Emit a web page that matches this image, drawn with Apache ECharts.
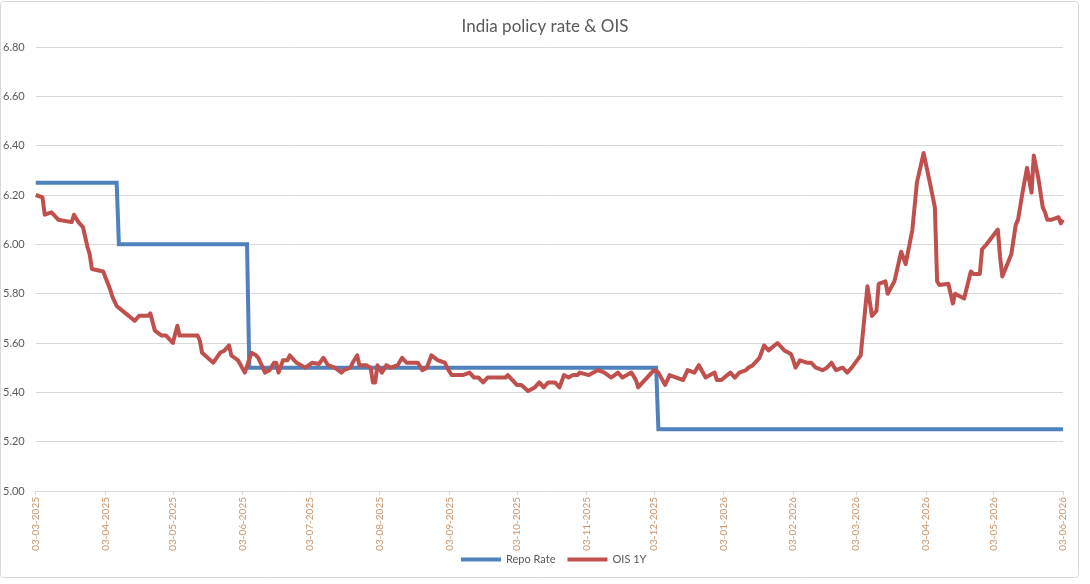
<!DOCTYPE html>
<html>
<head>
<meta charset="utf-8">
<title>India policy rate & OIS</title>
<script src="https://cdn.jsdelivr.net/npm/echarts@6/dist/echarts.min.js"></script>
<style>
  html, body { margin: 0; padding: 0; background: #fff; }
  #main { width: 1090px; height: 584px; }
</style>
</head>
<body>
<div id="main"></div>
<script>
// monthly tick dates shown on the x axis
const tickDates = [
  "2025-03-03", "2025-04-03", "2025-05-03", "2025-06-03", "2025-07-03", "2025-08-03",
  "2025-09-03", "2025-10-03", "2025-11-03", "2025-12-03", "2026-01-03", "2026-02-03",
  "2026-03-03", "2026-04-03", "2026-05-03", "2026-06-03"
];

// RBI repo rate (step changes)
const repoDates = [
  "2025-03-03", "2025-04-08", "2025-04-09", "2025-06-05", "2025-06-06",
  "2025-12-04", "2025-12-05", "2026-06-03"
];
const repoValues = [6.25, 6.25, 6.0, 6.0, 5.5, 5.5, 5.25, 5.25];

// 1Y OIS
const oisDates = [
  "2025-03-03", "2025-03-06", "2025-03-07", "2025-03-10", "2025-03-13", "2025-03-19",
  "2025-03-20", "2025-03-22", "2025-03-24", "2025-03-26", "2025-03-27", "2025-03-28",
  "2025-04-02", "2025-04-05", "2025-04-06", "2025-04-08", "2025-04-12", "2025-04-16",
  "2025-04-18", "2025-04-22", "2025-04-23", "2025-04-25", "2025-04-28", "2025-04-30",
  "2025-05-03", "2025-05-05", "2025-05-06", "2025-05-09", "2025-05-14", "2025-05-15",
  "2025-05-16", "2025-05-21", "2025-05-24", "2025-05-26", "2025-05-28", "2025-05-29",
  "2025-06-01", "2025-06-04", "2025-06-07", "2025-06-09", "2025-06-10", "2025-06-11",
  "2025-06-13", "2025-06-15", "2025-06-17", "2025-06-18", "2025-06-19", "2025-06-21",
  "2025-06-23", "2025-06-24", "2025-06-27", "2025-07-01", "2025-07-04", "2025-07-07",
  "2025-07-09", "2025-07-11", "2025-07-14", "2025-07-17", "2025-07-18", "2025-07-21",
  "2025-07-22", "2025-07-24", "2025-07-25", "2025-07-28", "2025-07-30", "2025-07-31",
  "2025-08-01", "2025-08-02", "2025-08-04", "2025-08-06", "2025-08-08", "2025-08-11",
  "2025-08-13", "2025-08-15", "2025-08-19", "2025-08-20", "2025-08-22", "2025-08-24",
  "2025-08-26", "2025-08-29", "2025-09-01", "2025-09-02", "2025-09-04", "2025-09-09",
  "2025-09-12", "2025-09-14", "2025-09-16", "2025-09-18", "2025-09-20", "2025-09-24",
  "2025-09-28", "2025-09-29", "2025-10-02", "2025-10-03", "2025-10-05", "2025-10-08",
  "2025-10-11", "2025-10-13", "2025-10-15", "2025-10-17", "2025-10-20", "2025-10-22",
  "2025-10-24", "2025-10-26", "2025-10-28", "2025-10-30", "2025-10-31", "2025-11-04",
  "2025-11-08", "2025-11-11", "2025-11-14", "2025-11-17", "2025-11-19", "2025-11-21",
  "2025-11-23", "2025-11-25", "2025-11-26", "2025-11-28", "2025-12-01", "2025-12-03",
  "2025-12-05", "2025-12-08", "2025-12-10", "2025-12-13", "2025-12-16", "2025-12-18",
  "2025-12-21", "2025-12-23", "2025-12-26", "2025-12-30", "2025-12-31", "2026-01-02",
  "2026-01-06", "2026-01-08", "2026-01-10", "2026-01-13", "2026-01-14", "2026-01-16",
  "2026-01-19", "2026-01-21", "2026-01-23", "2026-01-27", "2026-01-30", "2026-02-02",
  "2026-02-03", "2026-02-04", "2026-02-06", "2026-02-09", "2026-02-11", "2026-02-13",
  "2026-02-16", "2026-02-18", "2026-02-20", "2026-02-22", "2026-02-25", "2026-02-27",
  "2026-03-01", "2026-03-05", "2026-03-08", "2026-03-10", "2026-03-12", "2026-03-13",
  "2026-03-16", "2026-03-17", "2026-03-20", "2026-03-23", "2026-03-25", "2026-03-28",
  "2026-03-30", "2026-04-02", "2026-04-05", "2026-04-07", "2026-04-08", "2026-04-09",
  "2026-04-13", "2026-04-15", "2026-04-16", "2026-04-20", "2026-04-23", "2026-04-24",
  "2026-04-27", "2026-04-28", "2026-04-30", "2026-05-05", "2026-05-06", "2026-05-07",
  "2026-05-11", "2026-05-13", "2026-05-14", "2026-05-16", "2026-05-18", "2026-05-20",
  "2026-05-21", "2026-05-23", "2026-05-25", "2026-05-26", "2026-05-27", "2026-05-29",
  "2026-06-01", "2026-06-02", "2026-06-03"
];
const oisValues = [
  6.20, 6.19, 6.12, 6.13, 6.10, 6.09,
  6.12, 6.09, 6.07, 5.99, 5.96, 5.90,
  5.89, 5.82, 5.79, 5.75, 5.72, 5.69,
  5.71, 5.71, 5.72, 5.65, 5.63, 5.63,
  5.60, 5.67, 5.63, 5.63, 5.63, 5.61,
  5.56, 5.52, 5.56, 5.57, 5.59, 5.55,
  5.53, 5.48, 5.56, 5.55, 5.54, 5.52,
  5.48, 5.49, 5.52, 5.52, 5.48, 5.53,
  5.53, 5.55, 5.52, 5.50, 5.52, 5.515,
  5.54, 5.51, 5.50, 5.48, 5.49, 5.50,
  5.52, 5.55, 5.51, 5.51, 5.50, 5.44,
  5.44, 5.51, 5.48, 5.51, 5.50, 5.51,
  5.54, 5.52, 5.52, 5.52, 5.49, 5.50,
  5.55, 5.53, 5.52, 5.50, 5.47, 5.47,
  5.48, 5.46, 5.46, 5.44, 5.46, 5.46,
  5.46, 5.47, 5.44, 5.43, 5.43, 5.405,
  5.42, 5.44, 5.42, 5.44, 5.44, 5.42,
  5.47, 5.46, 5.47, 5.47, 5.48, 5.47,
  5.49, 5.48, 5.46, 5.48, 5.46, 5.47,
  5.48, 5.45, 5.42, 5.44, 5.47, 5.49,
  5.48, 5.43, 5.47, 5.46, 5.45, 5.49,
  5.48, 5.51, 5.46, 5.48, 5.45, 5.45,
  5.48, 5.46, 5.48, 5.49, 5.50, 5.51,
  5.54, 5.59, 5.57, 5.60, 5.57, 5.555,
  5.53, 5.50, 5.53, 5.52, 5.52, 5.50,
  5.49, 5.50, 5.52, 5.49, 5.50, 5.48,
  5.50, 5.55, 5.83, 5.71, 5.73, 5.84,
  5.85, 5.80, 5.85, 5.97, 5.92, 6.06,
  6.25, 6.37, 6.24, 6.15, 5.85, 5.835,
  5.84, 5.76, 5.80, 5.78, 5.89, 5.88,
  5.88, 5.98, 6.00, 6.06, 5.95, 5.87,
  5.96, 6.08, 6.10, 6.21, 6.31, 6.21,
  6.36, 6.27, 6.15, 6.13, 6.10, 6.10,
  6.11, 6.085, 6.10
];

const seriesNames = ["Repo Rate", "OIS 1Y"];
const seriesColors = ["#4F81BD", "#C0504D"];

const pad = (n) => (n < 10 ? "0" + n : "" + n);
// dates are placed on a plain value axis as UTC millisecond stamps
const toTime = (s) => Date.parse(s + "T00:00:00Z");
const tickValues = tickDates.map(toTime);

const chartDom = document.getElementById("main");
const myChart = echarts.init(chartDom, null, { renderer: "canvas" });

const option = {
  animation: false,
  backgroundColor: "#fff",
  textStyle: { fontFamily: "Lato, 'Noto Sans', sans-serif" },
  title: {
    text: "India policy rate & OIS",
    left: "center",
    top: 13,
    textStyle: { fontSize: 17, fontWeight: "normal", color: "#595959" },
  },
  graphic: [
    {
      type: "rect",
      shape: { x: 0.5, y: 1.5, width: 1078, height: 576, r: 3 },
      style: { fill: null, stroke: "#D9D9D9", lineWidth: 1 },
      silent: true,
    },
  ],
  legend: {
    bottom: 14,
    left: 456,
    itemWidth: 40,
    itemHeight: 4,
    itemGap: 12,
    icon: "rect",
    textStyle: { fontSize: 11, color: "#595959" },
    data: seriesNames,
  },
  grid: { left: 35, right: 27, top: 47, bottom: 93 },
  xAxis: {
    type: "value",
    min: tickValues[0],
    max: tickValues[tickValues.length - 1],
    axisLine: { lineStyle: { color: "#D9D9D9", width: 1 } },
    axisTick: {
      show: true,
      customValues: tickValues,
      length: 4,
      lineStyle: { color: "#D9D9D9" },
    },
    axisLabel: {
      customValues: tickValues,
      rotate: 90,
      margin: 6,
      fontSize: 10,
      color: "#C9956B",
      hideOverlap: false,
      formatter: (val) => {
        const d = new Date(val);
        return pad(d.getUTCDate()) + "-" + pad(d.getUTCMonth() + 1) + "-" + d.getUTCFullYear();
      },
    },
    splitLine: { show: false },
  },
  yAxis: {
    type: "value",
    min: 5.0,
    max: 6.8,
    interval: 0.2,
    axisLine: { show: false },
    axisTick: { show: false },
    axisLabel: {
      fontSize: 11,
      color: "#595959",
      margin: 11,
      formatter: (v) => v.toFixed(2),
    },
    splitLine: { lineStyle: { color: "#D9D9D9", width: 1 } },
  },
  series: [
    {
      name: seriesNames[0],
      type: "line",
      data: repoDates.map((d, i) => [toTime(d), repoValues[i]]),
      showSymbol: false,
      symbol: "none",
      lineStyle: { width: 4, color: seriesColors[0], join: "miter" },
      itemStyle: { color: seriesColors[0] },
      z: 2,
    },
    {
      name: seriesNames[1],
      type: "line",
      data: oisDates.map((d, i) => [toTime(d), oisValues[i]]),
      showSymbol: false,
      symbol: "none",
      lineStyle: { width: 4, color: seriesColors[1], join: "round" },
      itemStyle: { color: seriesColors[1] },
      z: 3,
    },
  ],
};

option && myChart.setOption(option);
</script>
</body>
</html>
